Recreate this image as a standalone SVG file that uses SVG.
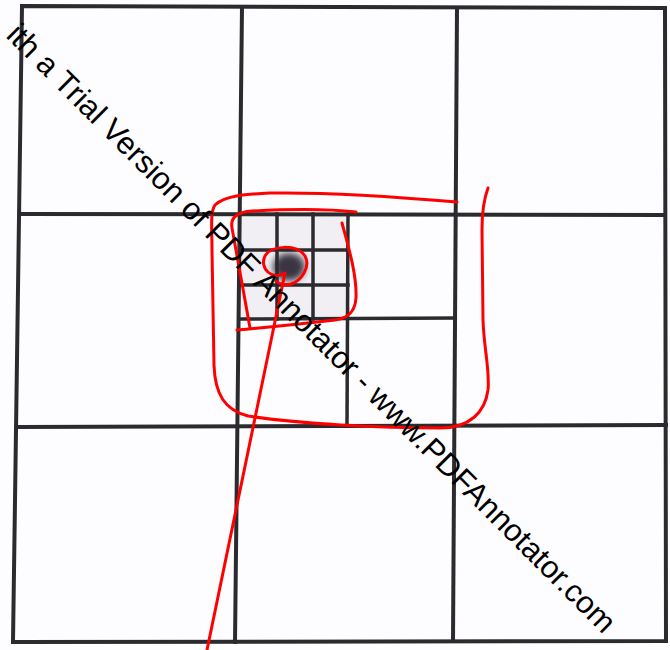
<svg xmlns="http://www.w3.org/2000/svg" width="670" height="650" viewBox="0 0 670 650">
<defs>
<style>
.g{stroke:#2b2a2e;stroke-width:4;fill:none;stroke-linecap:square}
.f{stroke:#2b2a2e;stroke-width:3.5;fill:none;stroke-linecap:square}
.r{stroke:#ff0000;stroke-width:3;fill:none;stroke-linecap:round;stroke-linejoin:round}
.wm{font-family:"Liberation Sans",Arial,sans-serif;font-size:31px;fill:#000}
</style>
<filter id="blur" x="-50%" y="-50%" width="200%" height="200%"><feGaussianBlur stdDeviation="3.5"/></filter>
</defs>
<rect x="0" y="0" width="670" height="650" fill="#fdfcfe"/>
<g id="cells">
<rect x="240" y="214" width="108" height="105" fill="#f1eff4"/>
<ellipse cx="289" cy="267" rx="16" ry="14" fill="#3a3542" filter="url(#blur)"/>
</g>
<g id="grid">
<path class="g" d="M22,6 L665,8 L666,641 L13,642 Z"/>
<path class="g" d="M21,214 L665,215"/>
<path class="g" d="M17,427 L666,425"/>
<path class="g" d="M242,7 L235,642"/>
<path class="g" d="M457,8 L453,641"/>
<path class="f" d="M348,214 L347,426"/>
<path class="f" d="M240,319 L455,318"/>
<path class="f" d="M277,214 L277,319"/>
<path class="f" d="M313,214 L313,319"/>
<path class="f" d="M240,250 L348,250"/>
<path class="f" d="M240,285 L348,285"/>
</g>
<g id="spiral">
<path class="r" d="M207,650 L285,273 C 272,281 259,268 265,256 C 271,245 297,244 305,256 C 311,267 301,281 291,284 C 285,286 279,284 276,281"/>
<path class="r" d="M342,223 C 348,245 357,275 356,298 C 355,312 348,318 335,320 C 300,324 260,328 237,330"/>
<path class="r" d="M250,328 C 245,300 236,250 232,228 C 230,217 238,212 252,211 C 290,209 330,209 356,212"/>
<path class="r" d="M457,202 C 400,197 330,192 270,193 C 245,194 224,196 215,205 C 210,212 212,230 212,250 L 214,365 C 215,395 225,410 248,416 C 300,424 380,428 440,428 C 470,428 485,412 488,390 C 490,370 484,350 483,320 L 482,230 C 482,210 485,196 488,188"/>
</g>
<text class="wm" transform="translate(5,36.5) rotate(45)">ith a Trial Version of PDF Annotator - www.PDFAnnotator.com</text>
</svg>
